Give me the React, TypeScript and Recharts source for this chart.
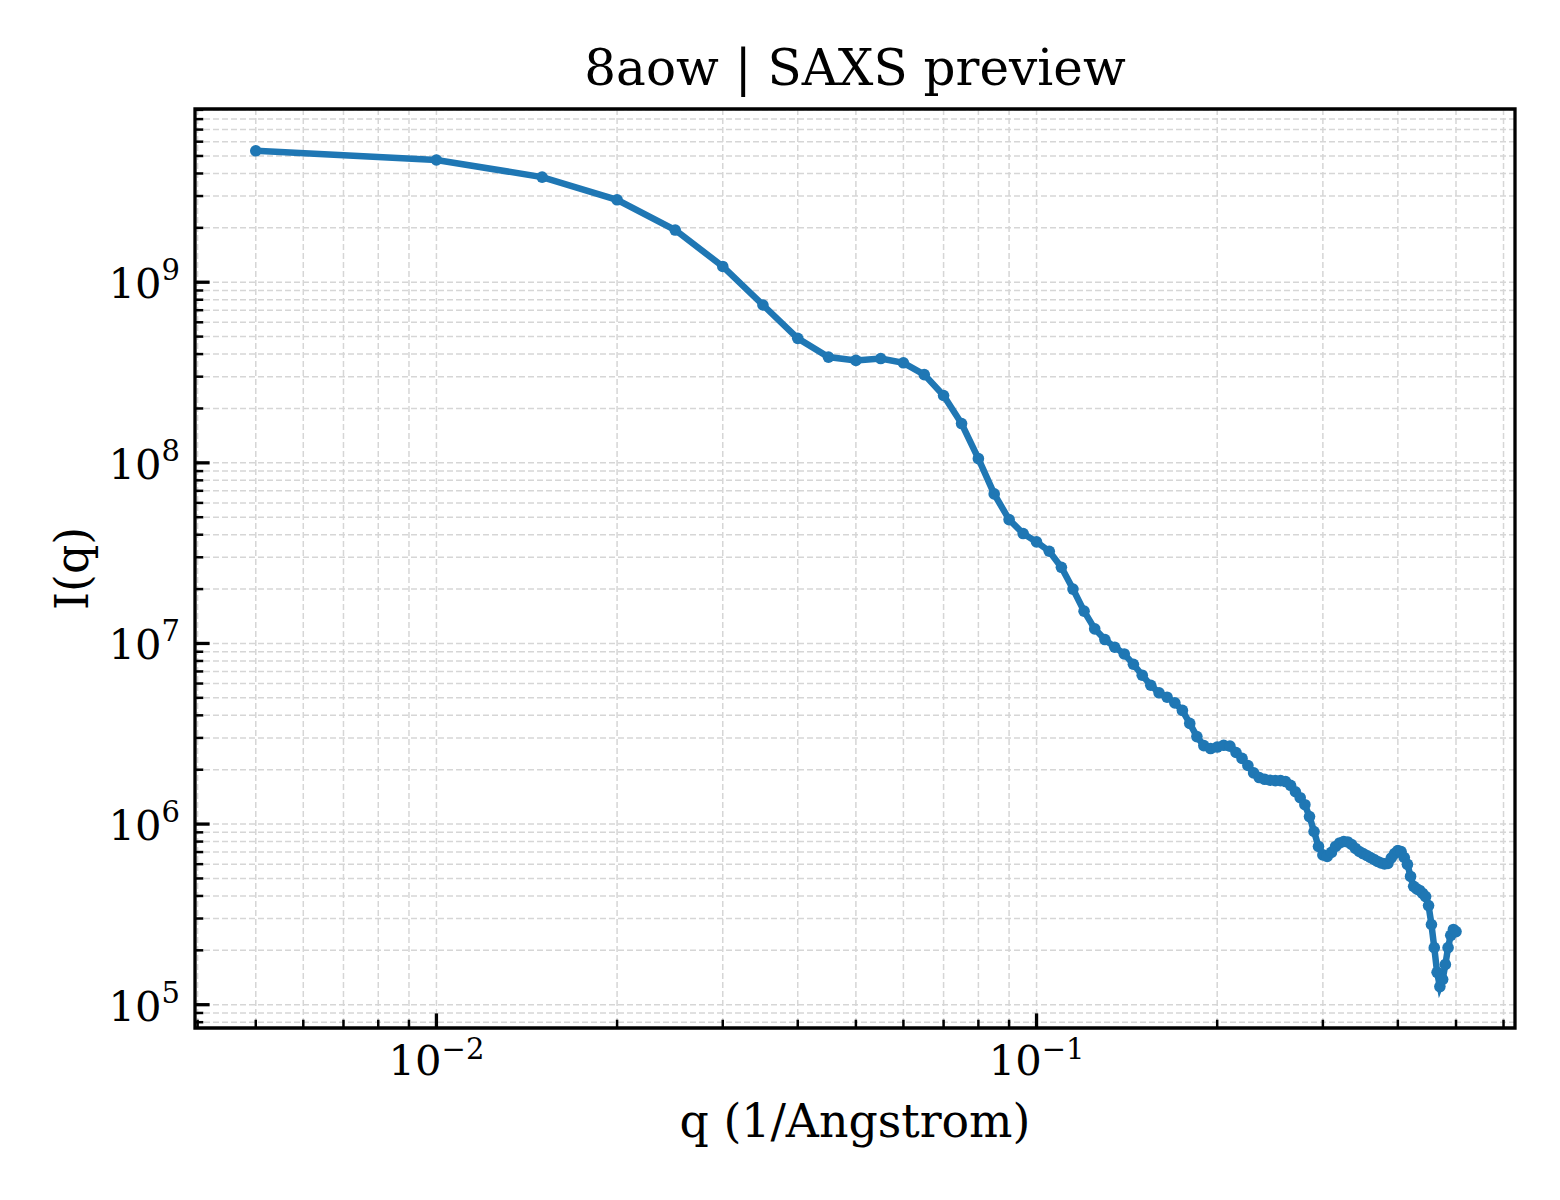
import React from 'react';
import { LineChart, Line, XAxis, YAxis, CartesianGrid, ReferenceArea } from 'recharts';

const qValues = [
  0.005, 0.01, 0.015, 0.02, 0.025, 0.03, 0.035, 0.04, 0.045, 0.05,
  0.055, 0.06, 0.065, 0.07, 0.075, 0.08, 0.085, 0.09, 0.095, 0.1,
  0.105, 0.11, 0.115, 0.12, 0.125, 0.13, 0.135, 0.14, 0.145, 0.15,
  0.155, 0.16, 0.165, 0.17, 0.175, 0.18, 0.185, 0.19, 0.195, 0.2,
  0.205, 0.21, 0.215, 0.22, 0.225, 0.23, 0.235, 0.24, 0.245, 0.25,
  0.255, 0.26, 0.265, 0.27, 0.275, 0.28, 0.285, 0.29, 0.295, 0.3,
  0.305, 0.31, 0.315, 0.32, 0.325, 0.33, 0.335, 0.34, 0.345, 0.35,
  0.355, 0.36, 0.365, 0.37, 0.375, 0.38, 0.385, 0.39, 0.395, 0.4,
  0.405, 0.41, 0.415, 0.42, 0.425, 0.43, 0.435, 0.44, 0.445, 0.45,
  0.455, 0.46, 0.465, 0.47, 0.475, 0.48, 0.485, 0.49, 0.495, 0.5,
];

const intensityValues = [
  5.34e9, 4.75e9, 3.82e9, 2.86e9, 1.945e9, 1.223e9, 7.48e8, 4.89e8, 3.85e8, 3.69e8,
  3.78e8, 3.58e8, 3.08e8, 2.36e8, 1.65e8, 1.055e8, 6.73e7, 4.85e7, 4.06e7, 3.65e7,
  3.24e7, 2.64e7, 2.0e7, 1.51e7, 1.205e7, 1.051e7, 9.53e6, 8.75e6, 7.67e6, 6.67e6,
  5.87e6, 5.33e6, 5.04e6, 4.69e6, 4.26e6, 3.61e6, 3.05e6, 2.72e6, 2.62e6, 2.67e6,
  2.73e6, 2.7e6, 2.49e6, 2.31e6, 2.11e6, 1.92e6, 1.81e6, 1.77e6, 1.75e6, 1.74e6,
  1.74e6, 1.72e6, 1.64e6, 1.51e6, 1.4e6, 1.28e6, 1.1e6, 9.1e5, 7.52e5, 6.75e5,
  6.62e5, 6.97e5, 7.52e5, 7.86e5, 8.01e5, 7.96e5, 7.71e5, 7.33e5, 7.05e5, 6.87e5,
  6.7e5, 6.53e5, 6.37e5, 6.21e5, 6.09e5, 6.02e5, 6.05e5, 6.49e5, 6.87e5, 7.14e5,
  7.05e5, 6.53e5, 5.98e5, 5.13e5, 4.52e5, 4.38e5, 4.29e5, 4.13e5, 3.97e5, 3.54e5,
  2.78e5, 2.07e5, 1.51e5, 1.26e5, 1.38e5, 1.67e5, 2.07e5, 2.42e5, 2.61e5, 2.54e5,
];

const xMajorTicks = [0.01, 0.1];
const xMajorExponents = ['\u22122', '\u22121'];
const xMinorTicks = [
  0.004, 0.005, 0.006, 0.007, 0.008, 0.009,
  0.02, 0.03, 0.04, 0.05, 0.06, 0.07, 0.08, 0.09,
  0.2, 0.3, 0.4, 0.5, 0.6,
];

const yMajorTicks = [1e5, 1e6, 1e7, 1e8, 1e9];
const yMajorExponents = ['5', '6', '7', '8', '9'];
const yMinorTicks = [
  8e4, 9e4,
  2e5, 3e5, 4e5, 5e5, 6e5, 7e5, 8e5, 9e5,
  2e6, 3e6, 4e6, 5e6, 6e6, 7e6, 8e6, 9e6,
  2e7, 3e7, 4e7, 5e7, 6e7, 7e7, 8e7, 9e7,
  2e8, 3e8, 4e8, 5e8, 6e8, 7e8, 8e8, 9e8,
  2e9, 3e9, 4e9, 5e9, 6e9, 7e9, 8e9, 9e9,
];

const xDomain = [0.00396, 0.627];
const yDomain = [7.43e4, 9.1e9];

const titleText = '8aow | SAXS preview';
const xLabelText = 'q (1/Angstrom)';
const yLabelText = 'I(q)';

const FONT = "'DejaVu Serif', serif";
const LINE_COLOR = '#1f77b4';

const data = qValues.map((q, i) => ({ q, I: intensityValues[i] }));
const xTicks = [...xMinorTicks, ...xMajorTicks].sort((a, b) => a - b);
const yTicks = [...yMinorTicks, ...yMajorTicks].sort((a, b) => a - b);

function XTick(props: any) {
  const { x, y, payload } = props;
  const idx = xMajorTicks.indexOf(payload.value);
  const major = idx >= 0;
  return (
    <g>
      <line
        x1={x}
        y1={y}
        x2={x}
        y2={y - (major ? 14.6 : 8.3)}
        stroke="#000"
        strokeWidth={major ? 3.3 : 2.5}
      />
      {major && (
        <text x={x} y={y + 47} textAnchor="middle" fontFamily={FONT} fontSize={41.7} fill="#000">
          10
          <tspan dy={-16} fontSize={29}>
            {xMajorExponents[idx]}
          </tspan>
        </text>
      )}
    </g>
  );
}

function YTick(props: any) {
  const { x, y, payload } = props;
  const idx = yMajorTicks.indexOf(payload.value);
  const major = idx >= 0;
  return (
    <g>
      <line
        x1={x}
        y1={y}
        x2={x + (major ? 14.6 : 8.3)}
        y2={y}
        stroke="#000"
        strokeWidth={major ? 3.3 : 2.5}
      />
      {major && (
        <text x={x - 15} y={y + 16} textAnchor="end" fontFamily={FONT} fontSize={41.7} fill="#000">
          10
          <tspan dy={-18} fontSize={29}>
            {yMajorExponents[idx]}
          </tspan>
        </text>
      )}
    </g>
  );
}

function TitleLabel(props: any) {
  const vb = props.viewBox || {};
  return (
    <text
      x={vb.x + vb.width / 2}
      y={vb.y - 24}
      textAnchor="middle"
      fontFamily={FONT}
      fontSize={50}
      fill="#000"
    >
      {titleText}
    </text>
  );
}

function XAxisLabel(props: any) {
  const vb = props.viewBox || {};
  return (
    <text
      x={vb.x + vb.width / 2}
      y={vb.y + 109}
      textAnchor="middle"
      fontFamily={FONT}
      fontSize={45.8}
      fill="#000"
    >
      {xLabelText}
    </text>
  );
}

function YAxisLabel(props: any) {
  const vb = props.viewBox || {};
  const cx = vb.x + vb.width - 107;
  const cy = vb.y + vb.height / 2;
  return (
    <text
      x={cx}
      y={cy}
      textAnchor="middle"
      fontFamily={FONT}
      fontSize={45.8}
      fill="#000"
      transform={`rotate(-90, ${cx}, ${cy})`}
    >
      {yLabelText}
    </text>
  );
}

export default function App() {
  return (
    <div style={{ position: 'absolute', left: 0, top: 0, width: 1560, height: 1200, background: '#fff' }}>
      <LineChart
        width={1560}
        height={1200}
        data={data}
        margin={{ top: 109, right: 45, bottom: 52, left: 95 }}
      >
        <CartesianGrid stroke="#d6d6d6" strokeWidth={1.5} strokeDasharray="6 3" />
        <XAxis
          dataKey="q"
          type="number"
          scale="log"
          domain={xDomain}
          allowDataOverflow
          ticks={xTicks}
          interval={0}
          tick={<XTick />}
          tickLine={false}
          axisLine={false}
          tickSize={0}
          tickMargin={0}
          height={120}
          label={{ content: <XAxisLabel /> }}
        />
        <YAxis
          dataKey="I"
          type="number"
          scale="log"
          domain={yDomain}
          allowDataOverflow
          ticks={yTicks}
          interval={0}
          tick={<YTick />}
          tickLine={false}
          axisLine={false}
          tickSize={0}
          tickMargin={0}
          width={100}
          label={{ content: <YAxisLabel /> }}
        />
        <ReferenceArea
          x1={xDomain[0]}
          x2={xDomain[1]}
          y1={yDomain[0]}
          y2={yDomain[1]}
          fill="none"
          fillOpacity={0}
          stroke="#000"
          strokeWidth={3.3}
          ifOverflow="visible"
          label={{ content: <TitleLabel /> }}
        />
        <Line
          type="linear"
          dataKey="I"
          stroke={LINE_COLOR}
          strokeWidth={6.5}
          dot={{ r: 5.8, fill: LINE_COLOR, stroke: 'none' }}
          activeDot={false}
          isAnimationActive={false}
        />
      </LineChart>
    </div>
  );
}
